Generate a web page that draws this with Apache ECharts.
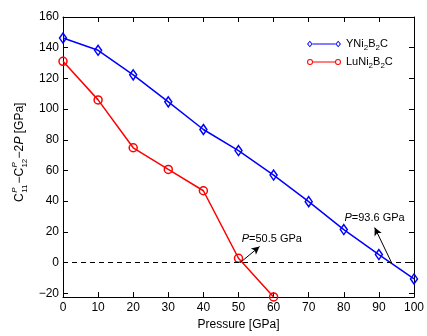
<!DOCTYPE html>
<html>
<head>
<meta charset="utf-8">
<script src="https://cdn.jsdelivr.net/npm/echarts@6/dist/echarts.min.js"></script>
<style>
  html, body { margin: 0; padding: 0; background: #fff; }
  #chart { width: 427px; height: 336px; }
</style>
</head>
<body>
<div id="chart"></div>
<script>
// data
const pressure = [0, 10, 20, 30, 40, 50, 60, 70, 80, 90, 100];
const yniValues = [146.3, 138.3, 122.3, 104.7, 86.7, 73.0, 57.0, 39.7, 21.5, 5.2, -10.7];
const luniPressure = [0, 10, 20, 30, 40, 50, 60];
const luniValues = [131.1, 106.0, 74.8, 60.7, 46.8, 2.8, -22.4];
const seriesNames = ['YNi2B2C', 'LuNi2B2C'];
const crossings = [50.5, 93.6];   // pressures where the curves cross zero

const FONT = 'Liberation Sans';

const chart = echarts.init(document.getElementById('chart'));

// legend icons: line with hollow markers at both ends
const diamondIcon = 'path://M3 0.2L5.8 3.5L3 6.8L0.2 3.5ZM3 1.5L1.4 3.5L3 5.5L4.6 3.5Z' +
  'M5.8 3L28.2 3L28.2 4L5.8 4Z' +
  'M31 0.2L33.8 3.5L31 6.8L28.2 3.5ZM31 1.5L29.4 3.5L31 5.5L32.6 3.5Z';
const circleIcon = 'path://M6 3.5A3 3 0 1 1 0 3.5A3 3 0 1 1 6 3.5ZM5 3.5A2 2 0 1 0 1 3.5A2 2 0 1 0 5 3.5Z' +
  'M6 3L28 3L28 4L6 4Z' +
  'M34 3.5A3 3 0 1 1 28 3.5A3 3 0 1 1 34 3.5ZM33 3.5A2 2 0 1 0 29 3.5A2 2 0 1 0 33 3.5Z';

function chemLabel(name) {
  // digits become subscripts
  return name.replace(/([A-Za-z]+)|(\d+)/g, (m, a, d) => a ? '{n|' + a + '}' : '{s|' + d + '}');
}

const minus = v => String(v).replace('-', '\u2212');

const xBase = {
  type: 'value', min: 0, max: 100, interval: 10,
  axisLine: { onZero: false, lineStyle: { color: '#000', width: 1 } },
  axisTick: { inside: true, length: 5, lineStyle: { color: '#000' } },
  splitLine: { show: false }
};
const yBase = {
  type: 'value', min: -22.5, max: 160, splitNumber: 9, minInterval: 20, maxInterval: 20,
  axisLine: { show: true, onZero: false, lineStyle: { color: '#000', width: 1 } },
  axisTick: { show: true, inside: true, length: 5, lineStyle: { color: '#000' } },
  splitLine: { show: false }
};

// y axis title C^P_11 - C^P_12 - 2P [GPa], laid out along the rotated baseline
const m = 12, sm = 8;
const yTitle = [
  { x: 0, y: 0, t: 'C', f: m },
  { x: 9.2, y: -5, t: 'P', f: sm, i: true },
  { x: 9.2, y: 5, t: '11', f: sm },
  { x: 18.4, y: 0, t: '\u2212C', f: m },
  { x: 34.4, y: -5, t: 'P', f: sm, i: true },
  { x: 34.4, y: 5, t: '12', f: sm },
  { x: 43.6, y: 0, t: '\u22122', f: m },
  { x: 57.4, y: 0, t: 'P', f: m, i: true },
  { x: 65.4, y: 0, t: ' [GPa]', f: m }
];

const option = {
  backgroundColor: '#fff',
  animation: false,
  textStyle: { fontFamily: FONT },
  grid: { left: 63, right: 7, top: 17, bottom: 38 },
  legend: {
    orient: 'vertical',
    left: 302, top: 31,
    itemWidth: 34, itemHeight: 7, itemGap: 2,
    data: [
      { name: seriesNames[0], icon: diamondIcon, itemStyle: { color: '#0000ff', borderWidth: 0 } },
      { name: seriesNames[1], icon: circleIcon, itemStyle: { color: '#ff0000', borderWidth: 0 } }
    ],
    formatter: chemLabel,
    textStyle: {
      color: '#000',
      rich: {
        n: { fontSize: 11, fontFamily: FONT, color: '#000', lineHeight: 16, verticalAlign: 'bottom', padding: [0, 0, 3, 0] },
        s: { fontSize: 8, fontFamily: FONT, color: '#000', lineHeight: 8, verticalAlign: 'bottom', padding: [8, 0, 0, 0] }
      }
    }
  },
  xAxis: [
    Object.assign({}, xBase, {
      position: 'bottom',
      name: 'Pressure [GPa]', nameLocation: 'middle', nameGap: 20,
      nameTextStyle: { color: '#000', fontSize: 12, fontFamily: FONT },
      axisLabel: { color: '#000', fontSize: 12, margin: 5, fontFamily: FONT }
    }),
    Object.assign({}, xBase, { position: 'top', axisLabel: { show: false } })
  ],
  yAxis: [
    Object.assign({}, yBase, {
      position: 'left',
      axisLabel: { color: '#000', fontSize: 12, margin: 4, fontFamily: FONT, showMinLabel: false, formatter: minus }
    }),
    Object.assign({}, yBase, { position: 'right', axisLabel: { show: false } })
  ],
  series: [
    {
      name: seriesNames[0],
      type: 'line',
      data: pressure.map((p, i) => [p, yniValues[i]]),
      symbol: 'diamond', symbolSize: [7, 10],
      lineStyle: { color: '#0000ff', width: 1.5 },
      itemStyle: { color: 'rgba(0,0,0,0)', borderColor: '#0000ff', borderWidth: 1.5 },
      markLine: {
        silent: true,
        symbol: ['none', 'arrow'], symbolSize: [6, 8],
        label: { show: false },
        lineStyle: { color: '#000', width: 1, type: 'solid' },
        data: [
          [{ coord: [crossings[0], 0] }, { coord: [56.0, 10.4] }],
          [{ coord: [crossings[1], 0] }, { coord: [88.8, 22.8] }]
        ]
      },
      markPoint: {
        silent: true,
        symbol: 'circle', symbolSize: 0,
        label: {
          show: true, position: [0, 0], align: 'left', verticalAlign: 'middle',
          color: '#000', fontSize: 11, fontFamily: FONT,
          formatter: p => '{i|P}=' + p.data.value + ' GPa',
          rich: { i: { fontStyle: 'italic', fontSize: 11, fontFamily: FONT, color: '#000' } }
        },
        data: [
          { coord: [50.9, 15.2], value: crossings[0] },
          { coord: [80.2, 29.0], value: crossings[1] }
        ]
      }
    },
    {
      name: seriesNames[1],
      type: 'line',
      data: luniPressure.map((p, i) => [p, luniValues[i]]),
      symbol: 'circle', symbolSize: 8,
      lineStyle: { color: '#ff0000', width: 1.5 },
      itemStyle: { color: 'rgba(0,0,0,0)', borderColor: '#ff0000', borderWidth: 1.5 },
      markLine: {
        silent: true,
        symbol: 'none',
        label: { show: false },
        lineStyle: { color: '#000', width: 1, type: [5, 4] },
        data: [{ yAxis: 0 }]
      }
    }
  ],
  graphic: [{
    type: 'group',
    x: 20, y: 202,
    rotation: Math.PI / 2,
    children: yTitle.map(d => ({
      type: 'text',
      x: d.x, y: d.y,
      style: {
        text: d.t, fill: '#000',
        font: (d.i ? 'italic ' : '') + d.f + 'px "' + FONT + '"',
        textAlign: 'left', textVerticalAlign: 'middle'
      }
    }))
  }]
};

chart.setOption(option);
</script>
</body>
</html>
